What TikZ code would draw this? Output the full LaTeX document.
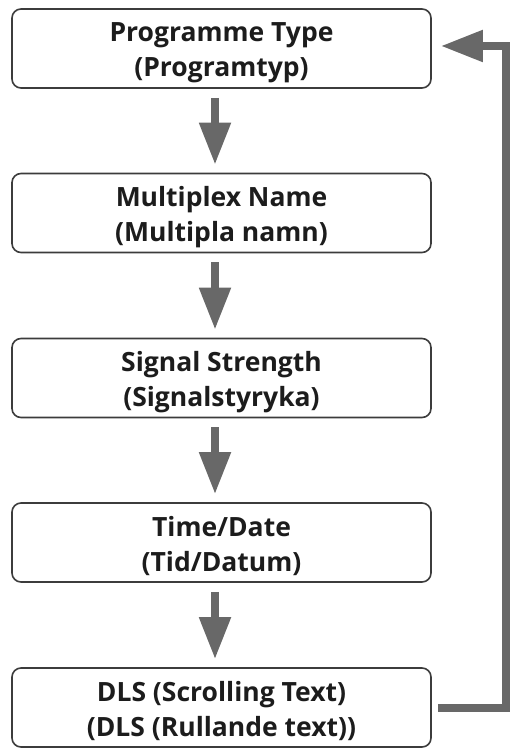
\documentclass[tikz,border=0pt]{standalone}
\usepackage{fontspec}
\setmainfont{Open Sans}
\usepackage{tikz}
\usetikzlibrary{arrows.meta}
\definecolor{boxline}{HTML}{3C3C3C}
\definecolor{flowgray}{HTML}{686868}
\definecolor{boxtext}{HTML}{1C1C1C}
\tikzstyle{stage}=[draw=boxline,line width=1.6pt,rounded corners=9pt,fill=white,minimum width=419pt,minimum height=79pt,inner sep=0pt,align=center,text=boxtext,font=\fontsize{26.5}{35}\selectfont\bfseries,text height=62pt,text depth=5pt]
\tikzstyle{flow} = [draw=flowgray,line width=8pt,line join=miter,-{Triangle[width=30pt,length=42pt]}]

\begin{document}
\begin{tikzpicture}[x=1pt,y=1pt]
  \useasboundingbox (0,0) rectangle (517,-751);
  \tikzstyle{down}=[flow,shorten <=9pt,shorten >=8pt]
  % boxes
  \node[stage] (ptype)  at (221.5,-48.5) {Programme Type\\(Programtyp)};
  \node[stage] (mplex)  at (221.5,-213)  {Multiplex Name\\(Multipla namn)};
  \node[stage] (signal) at (221.5,-378)  {Signal Strength\\(Signalstyryka)};
  \node[stage] (tdate)  at (221.5,-542.5) {Time/Date\\(Tid/Datum)};
  \node[stage] (dls)    at (221.5,-707.5) {DLS (Scrolling Text)\\(DLS (Rullande text))};
  % arrows
  \draw[down] ([xshift=-6.5pt]ptype.south)  -- ([xshift=-6.5pt]mplex.north);
  \draw[down] ([xshift=-6.5pt]mplex.south)  -- ([xshift=-6.5pt]signal.north);
  \draw[down] ([xshift=-6.5pt]signal.south) -- ([xshift=-6.5pt]tdate.north);
  \draw[down] ([xshift=-6.5pt]tdate.south)  -- ([xshift=-6.5pt]dls.north);
  % back to the top
  \coordinate (loopback) at (506,-400);
  \draw[flow,shorten <=6pt,shorten >=9pt] (dls.east) -| (loopback) |- ([yshift=2.5pt]ptype.east);
\end{tikzpicture}
\end{document}
